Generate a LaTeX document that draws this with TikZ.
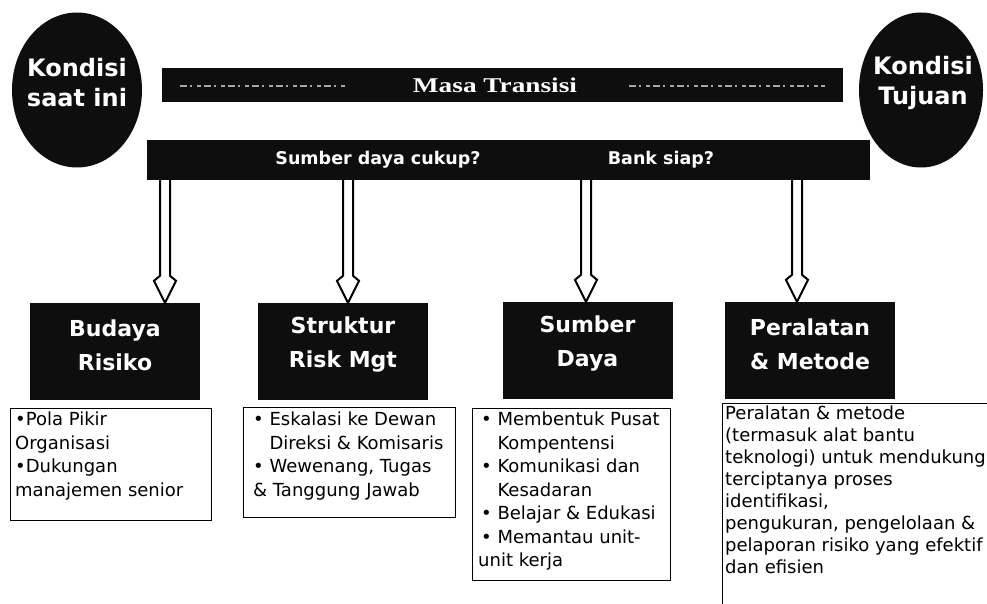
\documentclass[tikz,border=0pt]{standalone}
\usepackage{fontspec}
\setmainfont{DejaVu Sans}
\newfontfamily\serifbold{Liberation Serif}[BoldFont={Liberation Serif Bold}]
\usetikzlibrary{shapes.geometric,calc}
\definecolor{ink}{HTML}{0E0E0E}
\newcommand\hollowarrow[2]{%
  \draw[harrow] let \p1=(#1), \p2=(#2) in
    (\x1-5pt,\y1) -- (\x1-5pt,\y2+27pt) -- (\x1-11pt,\y2+22pt) -- (\x1,\y2)
    -- (\x1+11pt,\y2+22pt) -- (\x1+5pt,\y2+27pt) -- (\x1+5pt,\y1);}
\tikzset{
  darkell/.style={ellipse, fill=ink, inner sep=0pt},
  elltext/.style={text=white, align=center, inner sep=0pt,
    font=\fontsize{24}{30}\selectfont\bfseries},
  darkbar/.style={rectangle, fill=ink, inner sep=0pt},
  bartext/.style={text=white, inner sep=0pt,
    font=\fontsize{17.5}{20}\selectfont\bfseries},
  titlebox/.style={rectangle, fill=ink, inner sep=0pt,
    minimum width=170pt, minimum height=97pt},
  titletext/.style={text=white, align=center, inner sep=0pt,
    font=\fontsize{22}{34}\selectfont\bfseries},
  infobox/.style={rectangle, draw=black, line width=1.2pt, fill=white,
    inner sep=0pt, anchor=north west},
  infotext/.style={anchor=north west, align=left, inner sep=0pt,
    font=\fontsize{18}{23.5}\selectfont},
  harrow/.style={draw=black, fill=white, line width=2pt, line join=miter},
  transdash/.style={draw=white!65!black, line width=1.4pt,
    dash pattern=on 7pt off 3pt on 2pt off 5pt on 4pt off 3pt}
}
\begin{document}
\begin{tikzpicture}[x=1pt,y=-1pt]
\useasboundingbox[fill=white] (0,0) rectangle (987,604);

% top bars
\node[darkbar, minimum width=681pt, minimum height=34pt] (masa) at (502.5,85) {};
\node[text=white, inner sep=0pt, font=\fontsize{21}{22}\serifbold\bfseries] (masat) at (495,85)
  {\scalebox{1.3}[1]{Masa Transisi}};
\draw[transdash] ($(masa.west)+(18,1)$) -- ($(masat.west)+(-65,1)$);
\draw[transdash] ($(masat.east)+(52,1)$) -- ($(masa.east)+(-18,1)$);

\node[darkbar, minimum width=723pt, minimum height=40pt] (q) at (508.5,160) {};
\node[bartext] (q1) at (378,160) {Sumber daya cukup?};
\node[bartext] (q2) at (661,160) {Bank siap?};

% ellipses
\node[darkell, minimum width=130pt, minimum height=155pt] (kl) at (77,90) {};
\node[elltext] (klt) at (77,83) {Kondisi\\saat ini};
\node[darkell, minimum width=124pt, minimum height=155pt] (kr) at (921,90) {};
\node[elltext] (krt) at (923,83) {Kondisi\\Tujuan};

% title boxes
\node[titlebox] (t1) at (115,351.5) {};
\node[titletext] (t1t) at (115,345) {Budaya\\Risiko};
\node[titlebox] (t2) at (343,351.5) {};
\node[titletext] (t2t) at (343,345) {Struktur\\Risk Mgt};
\node[titlebox] (t3) at (587.5,350.5) {};
\node[titletext] (t3t) at (587.5,344) {Sumber\\Daya};
\node[titlebox] (t4) at (810,350.5) {};
\node[titletext] (t4t) at (810,344) {Peralatan\\\& Metode};

% arrows
\path (165,0) coordinate (x1) (348,0) coordinate (x2) (586,0) coordinate (x3) (797,0) coordinate (x4);
\hollowarrow{q.south -| x1}{t1.north -| x1}
\hollowarrow{q.south -| x2}{t2.north -| x2}
\hollowarrow{q.south -| x3}{t3.north -| x3}
\hollowarrow{q.south -| x4}{t4.north -| x4}

% info boxes
\node[infobox, minimum width=201pt, minimum height=112pt] (b1) at (10,408) {};
\node[infotext] (b1t) at ($(b1.north west)+(5,4)$)
  {•Pola Pikir\\Organisasi\\•Dukungan\\manajemen senior};
\node[infobox, minimum width=212pt, minimum height=110pt] (b2) at (243,407) {};
\node[infotext] (b2t) at ($(b2.north west)+(10,5)$)
  {• Eskalasi ke Dewan\\\phantom{• }Direksi \& Komisaris\\• Wewenang, Tugas\\\& Tanggung Jawab};
\node[infobox, minimum width=198pt, minimum height=172pt] (b3) at (472,408) {};
\node[infotext] (b3t) at ($(b3.north west)+(6,4)$)
  {\,• Membentuk Pusat\\\,\phantom{• }Kompentensi\\\,• Komunikasi dan\\\,\phantom{• }Kesadaran\\\,• Belajar \& Edukasi\\\,• Memantau unit-\\unit kerja};
\node[infobox, minimum width=275pt, minimum height=210pt] (b4) at (722,403) {};
\node[infotext, font=\fontsize{18}{22}\selectfont] (b4t) at ($(b4.north west)+(3,3)$)
  {Peralatan \& metode\\(termasuk alat bantu\\teknologi) untuk mendukung\\terciptanya proses\\identifikasi,\\pengukuran, pengelolaan \&\\pelaporan risiko yang efektif\\dan efisien};
\end{tikzpicture}
\end{document}
